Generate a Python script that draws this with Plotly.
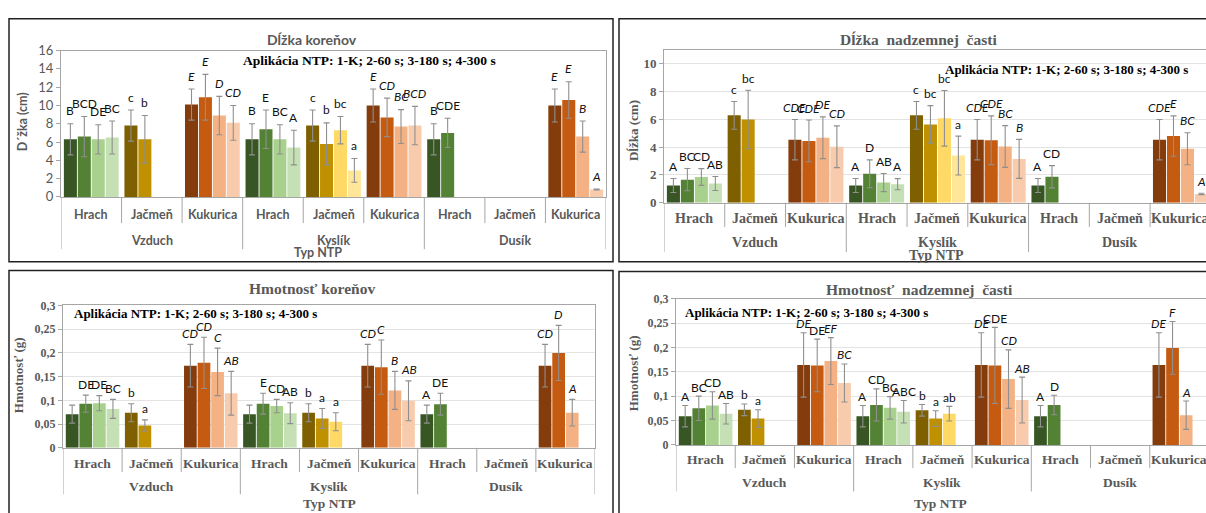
import plotly.graph_objects as go

W, H = 1206, 513

groups = ["Vzduch", "Kyslík", "Dusík"]
crops = ["Hrach", "Jačmeň", "Kukurica"]

# one shade per NTP application (1-K, 2-60 s, 3-180 s, 4-300 s) for each crop
shades = {
    "Hrach": ["#375623", "#548235", "#A9D18E", "#C5E0B4"],
    "Jačmeň": ["#7F6000", "#BF9000", "#FFD966", "#FFE699"],
    "Kukurica": ["#843C0C", "#C55A11", "#F4B183", "#F8CBAD"],
}

# order of the 9 categories: Vzduch(Hrach, Jačmeň, Kukurica), Kyslík(...), Dusík(...)

# ---- Dĺžka koreňov (cm) ----
root_len_1 = [6.3, 7.8, 10.1, 6.3, 7.8, 10.0, 6.3, None, 10.0]
root_len_2 = [6.6, 6.3, 10.9, 7.4, 5.8, 8.7, 7.0, None, 10.6]
root_len_3 = [6.3, None, 8.9, 6.3, 7.3, 7.7, None, None, 6.6]
root_len_4 = [6.5, None, 8.1, 5.4, 2.9, 7.8, None, None, 0.8]
root_len_err_1 = [1.7, 1.7, 1.7, 1.7, 1.7, 1.8, 1.7, None, 1.8]
root_len_err_2 = [2.2, 2.6, 2.5, 2.1, 2.3, 2.1, 1.6, None, 2.0]
root_len_err_3 = [1.6, None, 2.1, 1.6, 1.5, 1.85, None, None, 1.7]
root_len_err_4 = [1.8, None, 1.9, 1.9, 1.3, 2.1, None, None, 0.05]
root_len_sig_1 = ["B", "c", "<i>E</i>", "B", "c", "<i>E</i>", "B", None, "<i>E</i>"]
root_len_sig_2 = ["BCD", "b", "<i>E</i>", "E", "b", "<i>CD</i>", "CDE", None, "<i>E</i>"]
root_len_sig_3 = ["DE", None, "<i>D</i>", "BC", "bc", "<i>BC</i>", None, None, "<i>B</i>"]
root_len_sig_4 = ["BC", None, "<i>CD</i>", "A", "a", "<i>BCD</i>", None, None, "<i>A</i>"]

# ---- Dĺžka nadzemnej časti (cm) ----
shoot_len_1 = [1.24, 6.28, 4.53, 1.24, 6.28, 4.53, 1.24, None, 4.53]
shoot_len_2 = [1.66, 5.98, 4.44, 2.08, 5.63, 4.49, 1.87, None, 4.79]
shoot_len_3 = [1.85, None, 4.67, 1.45, 6.07, 4.04, None, None, 3.88]
shoot_len_4 = [1.38, None, 4.02, 1.33, 3.39, 3.15, None, None, 0.63]
shoot_len_err_1 = [0.5, 1.0, 1.45, 0.5, 1.0, 1.45, 0.5, None, 1.45]
shoot_len_err_2 = [0.8, 2.1, 1.5, 1.0, 1.35, 1.75, 0.8, None, 1.45]
shoot_len_err_3 = [0.6, None, 1.5, 0.65, 2.0, 1.5, None, None, 1.15]
shoot_len_err_4 = [0.5, None, 1.5, 0.4, 1.4, 1.4, None, None, 0.05]
shoot_len_sig_1 = ["A", "c", "<i>CDE</i>", "A", "c", "<i>CDE</i>", "A", None, "<i>CDE</i>"]
shoot_len_sig_2 = ["BC", "bc", "<i>CDE</i>", "D", "bc", "<i>CDE</i>", "CD", None, "<i>E</i>"]
shoot_len_sig_3 = ["CD", None, "<i>DE</i>", "AB", "bc", "<i>BC</i>", None, None, "<i>BC</i>"]
shoot_len_sig_4 = ["AB", None, "<i>CD</i>", "A", "a", "<i>B</i>", None, None, "<i>A</i>"]

# ---- Hmotnosť koreňov (g) ----
root_mass_1 = [0.071, 0.074, 0.173, 0.071, 0.074, 0.173, 0.071, None, 0.173]
root_mass_2 = [0.093, 0.047, 0.179, 0.093, 0.062, 0.170, 0.092, None, 0.200]
root_mass_3 = [0.094, None, 0.160, 0.088, 0.055, 0.121, None, None, 0.074]
root_mass_4 = [0.082, None, 0.115, 0.073, None, 0.099, None, None, None]
root_mass_err_1 = [0.019, 0.019, 0.045, 0.019, 0.019, 0.045, 0.019, None, 0.045]
root_mass_err_2 = [0.018, 0.012, 0.054, 0.022, 0.021, 0.057, 0.023, None, 0.058]
root_mass_err_3 = [0.016, None, 0.050, 0.014, 0.019, 0.040, None, None, 0.028]
root_mass_err_4 = [0.020, None, 0.046, 0.022, None, 0.042, None, None, None]
root_mass_sig_1 = [None, "b", "<i>CD</i>", None, "b", "<i>CD</i>", "A", None, "<i>CD</i>"]
root_mass_sig_2 = ["DE", "a", "<i>CD</i>", "E", "a", "<i>C</i>", "DE", None, "<i>D</i>"]
root_mass_sig_3 = ["DE", None, "<i>C</i>", "CD", "a", "<i>B</i>", None, None, "<i>A</i>"]
root_mass_sig_4 = ["BC", None, "<i>AB</i>", "AB", None, "<i>AB</i>", None, None, None]

# ---- Hmotnosť nadzemnej časti (g) ----
shoot_mass_1 = [0.059, 0.072, 0.164, 0.059, 0.071, 0.164, 0.059, None, 0.164]
shoot_mass_2 = [0.075, 0.054, 0.163, 0.082, 0.054, 0.163, 0.082, None, 0.199]
shoot_mass_3 = [0.081, None, 0.172, 0.076, 0.064, 0.135, None, None, 0.061]
shoot_mass_4 = [0.064, None, 0.127, 0.068, None, 0.092, None, None, None]
shoot_mass_err_1 = [0.022, 0.012, 0.066, 0.022, 0.012, 0.066, 0.022, None, 0.066]
shoot_mass_err_2 = [0.025, 0.018, 0.054, 0.033, 0.016, 0.078, 0.020, None, 0.054]
shoot_mass_err_3 = [0.028, None, 0.048, 0.023, 0.015, 0.060, None, None, 0.029]
shoot_mass_err_4 = [0.021, None, 0.039, 0.023, None, 0.047, None, None, None]
shoot_mass_sig_1 = ["A", "b", "<i>DE</i>", "A", "b", "<i>DE</i>", "A", None, "<i>DE</i>"]
shoot_mass_sig_2 = ["BC", "a", "DE", "CD", "a", "CDE", "D", None, "<i>F</i>"]
shoot_mass_sig_3 = ["CD", None, "<i>EF</i>", "BC", "ab", "<i>CD</i>", None, None, "<i>A</i>"]
shoot_mass_sig_4 = ["AB", None, "<i>BC</i>", "ABC", None, "<i>AB</i>", None, None, None]

APPLICATION = "Aplikácia NTP: 1-K; 2-60 s; 3-180 s; 4-300 s"

SANS = "Lato"
SERIF = "Liberation Serif"
GRAY_TXT = "#595959"
AXIS_GRAY = "#a6a6a6"
GRID = "#e3e3e3"
FRAME = "#222222"

PITCH = 0.23   # distance between neighbouring bars within a category
BAR_W = 0.215


def px_x(p):
    return p / W


def px_y(p):
    return 1 - p / H


panels = [
    dict(
        title="Dĺžka koreňov", title_font=SANS, title_size=14, title_xy=(312, 32),
        ylabel="D´žka (cm)", ylabel_xy=(22, 118), ylabel_size=12.5,
        app_xy=(241, 54), app_size=13.5,
        box=(61, 606, 44, 195), xmax=8.5, yrange=[0, 16], dtick=2, grid=False,
        font=SANS, tick_size=13, cat_size=12.5, letter_pad=13,
        cat_y=213, grp_y=240, typ_xy=(318, 252), inner_end=222, group_end=249,
        frame=(9, 613, 11, 262), mirror_y=True,
        values=[root_len_1, root_len_2, root_len_3, root_len_4],
        errors=[root_len_err_1, root_len_err_2, root_len_err_3, root_len_err_4],
        letters=[root_len_sig_1, root_len_sig_2, root_len_sig_3, root_len_sig_4],
    ),
    dict(
        title="Dĺžka  nadzemnej  časti", title_font=SERIF, title_size=15.5, title_xy=(918, 32),
        ylabel="Dĺžka (cm)", ylabel_xy=(633, 127), ylabel_size=13,
        app_xy=(943, 63), app_size=13,
        box=(664, 1206, 43, 201), xmax=8.42, yrange=[0, 11], dtick=2, grid=True,
        font=SERIF, tick_size=13, cat_size=14, letter_pad=12,
        cat_y=217, grp_y=242, typ_xy=(936, 255), inner_end=226, group_end=252,
        frame=(619, 1215, 11, 262), mirror_y=False,
        values=[shoot_len_1, shoot_len_2, shoot_len_3, shoot_len_4],
        errors=[shoot_len_err_1, shoot_len_err_2, shoot_len_err_3, shoot_len_err_4],
        letters=[shoot_len_sig_1, shoot_len_sig_2, shoot_len_sig_3, shoot_len_sig_4],
    ),
    dict(
        title="Hmotnosť koreňov", title_font=SERIF, title_size=15.5, title_xy=(312, 290),
        ylabel="Hmotnosť (g)", ylabel_xy=(18, 379), ylabel_size=13,
        app_xy=(72, 315), app_size=13,
        box=(63, 595, 307, 454), xmax=8.5, yrange=[0, 0.3], dtick=0.05, grid=True,
        font=SERIF, tick_size=12, cat_size=13.5, letter_pad=11,
        cat_y=470, grp_y=494, typ_xy=(330, 511), inner_end=479, group_end=502,
        frame=(9, 613, 271, 530), mirror_y=True,
        values=[root_mass_1, root_mass_2, root_mass_3, root_mass_4],
        errors=[root_mass_err_1, root_mass_err_2, root_mass_err_3, root_mass_err_4],
        letters=[root_mass_sig_1, root_mass_sig_2, root_mass_sig_3, root_mass_sig_4],
    ),
    dict(
        title="Hmotnosť  nadzemnej  časti", title_font=SERIF, title_size=15.5, title_xy=(919, 291),
        ylabel="Hmotnosť (g)", ylabel_xy=(633, 377), ylabel_size=13,
        app_xy=(683, 314), app_size=13,
        box=(676, 1206, 300, 451), xmax=8.45, yrange=[0, 0.3], dtick=0.05, grid=True,
        font=SERIF, tick_size=12, cat_size=13.5, letter_pad=9,
        cat_y=466, grp_y=490, typ_xy=(940, 511), inner_end=475, group_end=499,
        frame=(619, 1215, 272, 530), mirror_y=False,
        values=[shoot_mass_1, shoot_mass_2, shoot_mass_3, shoot_mass_4],
        errors=[shoot_mass_err_1, shoot_mass_err_2, shoot_mass_err_3, shoot_mass_err_4],
        letters=[shoot_mass_sig_1, shoot_mass_sig_2, shoot_mass_sig_3, shoot_mass_sig_4],
    ),
]

cat_crop = [c for g in groups for c in crops]
fig = go.Figure()
annotations = []
shapes = []
layout_axes = {}

for n, p in enumerate(panels, start=1):
    suffix = "" if n == 1 else str(n)
    xa, ya = "x" + suffix, "y" + suffix

    for k in range(4):
        vals, errs, sigs = p["values"][k], p["errors"][k], p["letters"][k]
        xs = [i + (k - 1.5) * PITCH for i in range(len(cat_crop))]
        fig.add_trace(go.Bar(
            x=xs, y=vals, width=BAR_W,
            marker=dict(color=[shades[c][k] for c in cat_crop], line=dict(width=0)),
            error_y=dict(type="data", array=[e if e is not None else 0 for e in errs],
                         color="#8f8f8f", thickness=1.1, width=3),
            xaxis=xa, yaxis=ya, showlegend=False, hoverinfo="skip",
        ))
        # significance letters sit just above the error bar of their bar
        for i, (v, e, s) in enumerate(zip(vals, errs, sigs)):
            if v is not None and s:
                annotations.append(dict(
                    x=xs[i], xref=xa, y=v + e, yref=ya, text=s, showarrow=False,
                    xanchor="center", yanchor="middle", yshift=p["letter_pad"],
                    font=dict(family=SANS, size=12, color="#111111"),
                ))

    x0, x1, ytop, yzero = p["box"]
    tickfont = dict(family=p["font"], size=p["tick_size"], color=GRAY_TXT,
                    weight="bold" if p["font"] == SERIF else "normal")
    layout_axes["xaxis" + suffix] = dict(
        domain=[px_x(x0), px_x(x1)], range=[-0.5, p["xmax"]], anchor=ya,
        showgrid=False, zeroline=False, showline=True, linecolor=AXIS_GRAY,
        linewidth=1, mirror=True, showticklabels=False, ticks="", fixedrange=True,
    )
    layout_axes["yaxis" + suffix] = dict(
        domain=[px_y(yzero), px_y(ytop)], range=p["yrange"], anchor=xa,
        dtick=p["dtick"], tick0=0, showgrid=p["grid"], gridcolor=GRID, gridwidth=1,
        zeroline=False, showline=True, linecolor=AXIS_GRAY, linewidth=1,
        mirror=p["mirror_y"], ticks="outside", ticklen=4, tickcolor=AXIS_GRAY,
        tickfont=tickfont, fixedrange=True,
    )

    label_font = dict(family=p["font"], size=p["cat_size"], color=GRAY_TXT, weight="bold")

    # crop labels and group labels under the axis
    for i, crop in enumerate(cat_crop):
        if i <= p["xmax"]:
            annotations.append(dict(x=i, xref=xa, y=px_y(p["cat_y"]), yref="paper",
                                    text=crop, showarrow=False, font=label_font,
                                    xanchor="center", yanchor="middle"))
    for g, grp in enumerate(groups):
        annotations.append(dict(x=g * 3 + 1, xref=xa, y=px_y(p["grp_y"]), yref="paper",
                                text=grp, showarrow=False, font=label_font,
                                xanchor="center", yanchor="middle"))
    annotations.append(dict(x=px_x(p["typ_xy"][0]), xref="paper", y=px_y(p["typ_xy"][1]),
                            yref="paper", text="Typ NTP", showarrow=False, font=label_font,
                            xanchor="center", yanchor="middle"))

    # category and group dividers
    for b in range(len(cat_crop) + 1):
        pos = b - 0.5
        if pos > p["xmax"]:
            continue
        end = p["group_end"] if b % 3 == 0 else p["inner_end"]
        shapes.append(dict(type="line", xref=xa, yref="paper", x0=pos, x1=pos,
                           y0=px_y(yzero), y1=px_y(end),
                           line=dict(color=AXIS_GRAY, width=1)))

    # panel title, application note, y-axis title
    annotations.append(dict(x=px_x(p["title_xy"][0]), y=px_y(p["title_xy"][1]),
                            xref="paper", yref="paper", text=p["title"], showarrow=False,
                            font=dict(family=p["title_font"], size=p["title_size"],
                                      color=GRAY_TXT, weight="bold"),
                            xanchor="center", yanchor="middle"))
    annotations.append(dict(x=px_x(p["app_xy"][0]), y=px_y(p["app_xy"][1]),
                            xref="paper", yref="paper", text=APPLICATION, showarrow=False,
                            font=dict(family=SERIF, size=p["app_size"], color="#000000",
                                      weight="bold"),
                            xanchor="left", yanchor="middle"))
    annotations.append(dict(x=px_x(p["ylabel_xy"][0]), y=px_y(p["ylabel_xy"][1]),
                            xref="paper", yref="paper", text=p["ylabel"], showarrow=False,
                            textangle=-90,
                            font=dict(family=p["font"], size=p["ylabel_size"],
                                      color=GRAY_TXT, weight="bold"),
                            xanchor="center", yanchor="middle"))

    # outer frame of the chart
    fx0, fx1, fy0, fy1 = p["frame"]
    shapes.append(dict(type="rect", xref="paper", yref="paper",
                       x0=px_x(fx0), x1=px_x(fx1), y0=px_y(fy1), y1=px_y(fy0),
                       line=dict(color=FRAME, width=1.5), layer="below"))

fig.update_layout(
    width=W, height=H, autosize=False,
    margin=dict(l=0, r=0, t=0, b=0, pad=0),
    paper_bgcolor="white", plot_bgcolor="white",
    barmode="overlay", separators=", ",
    showlegend=False,
    annotations=annotations, shapes=shapes,
    **layout_axes,
)

fig.write_html("out.html", config={"displayModeBar": False})
